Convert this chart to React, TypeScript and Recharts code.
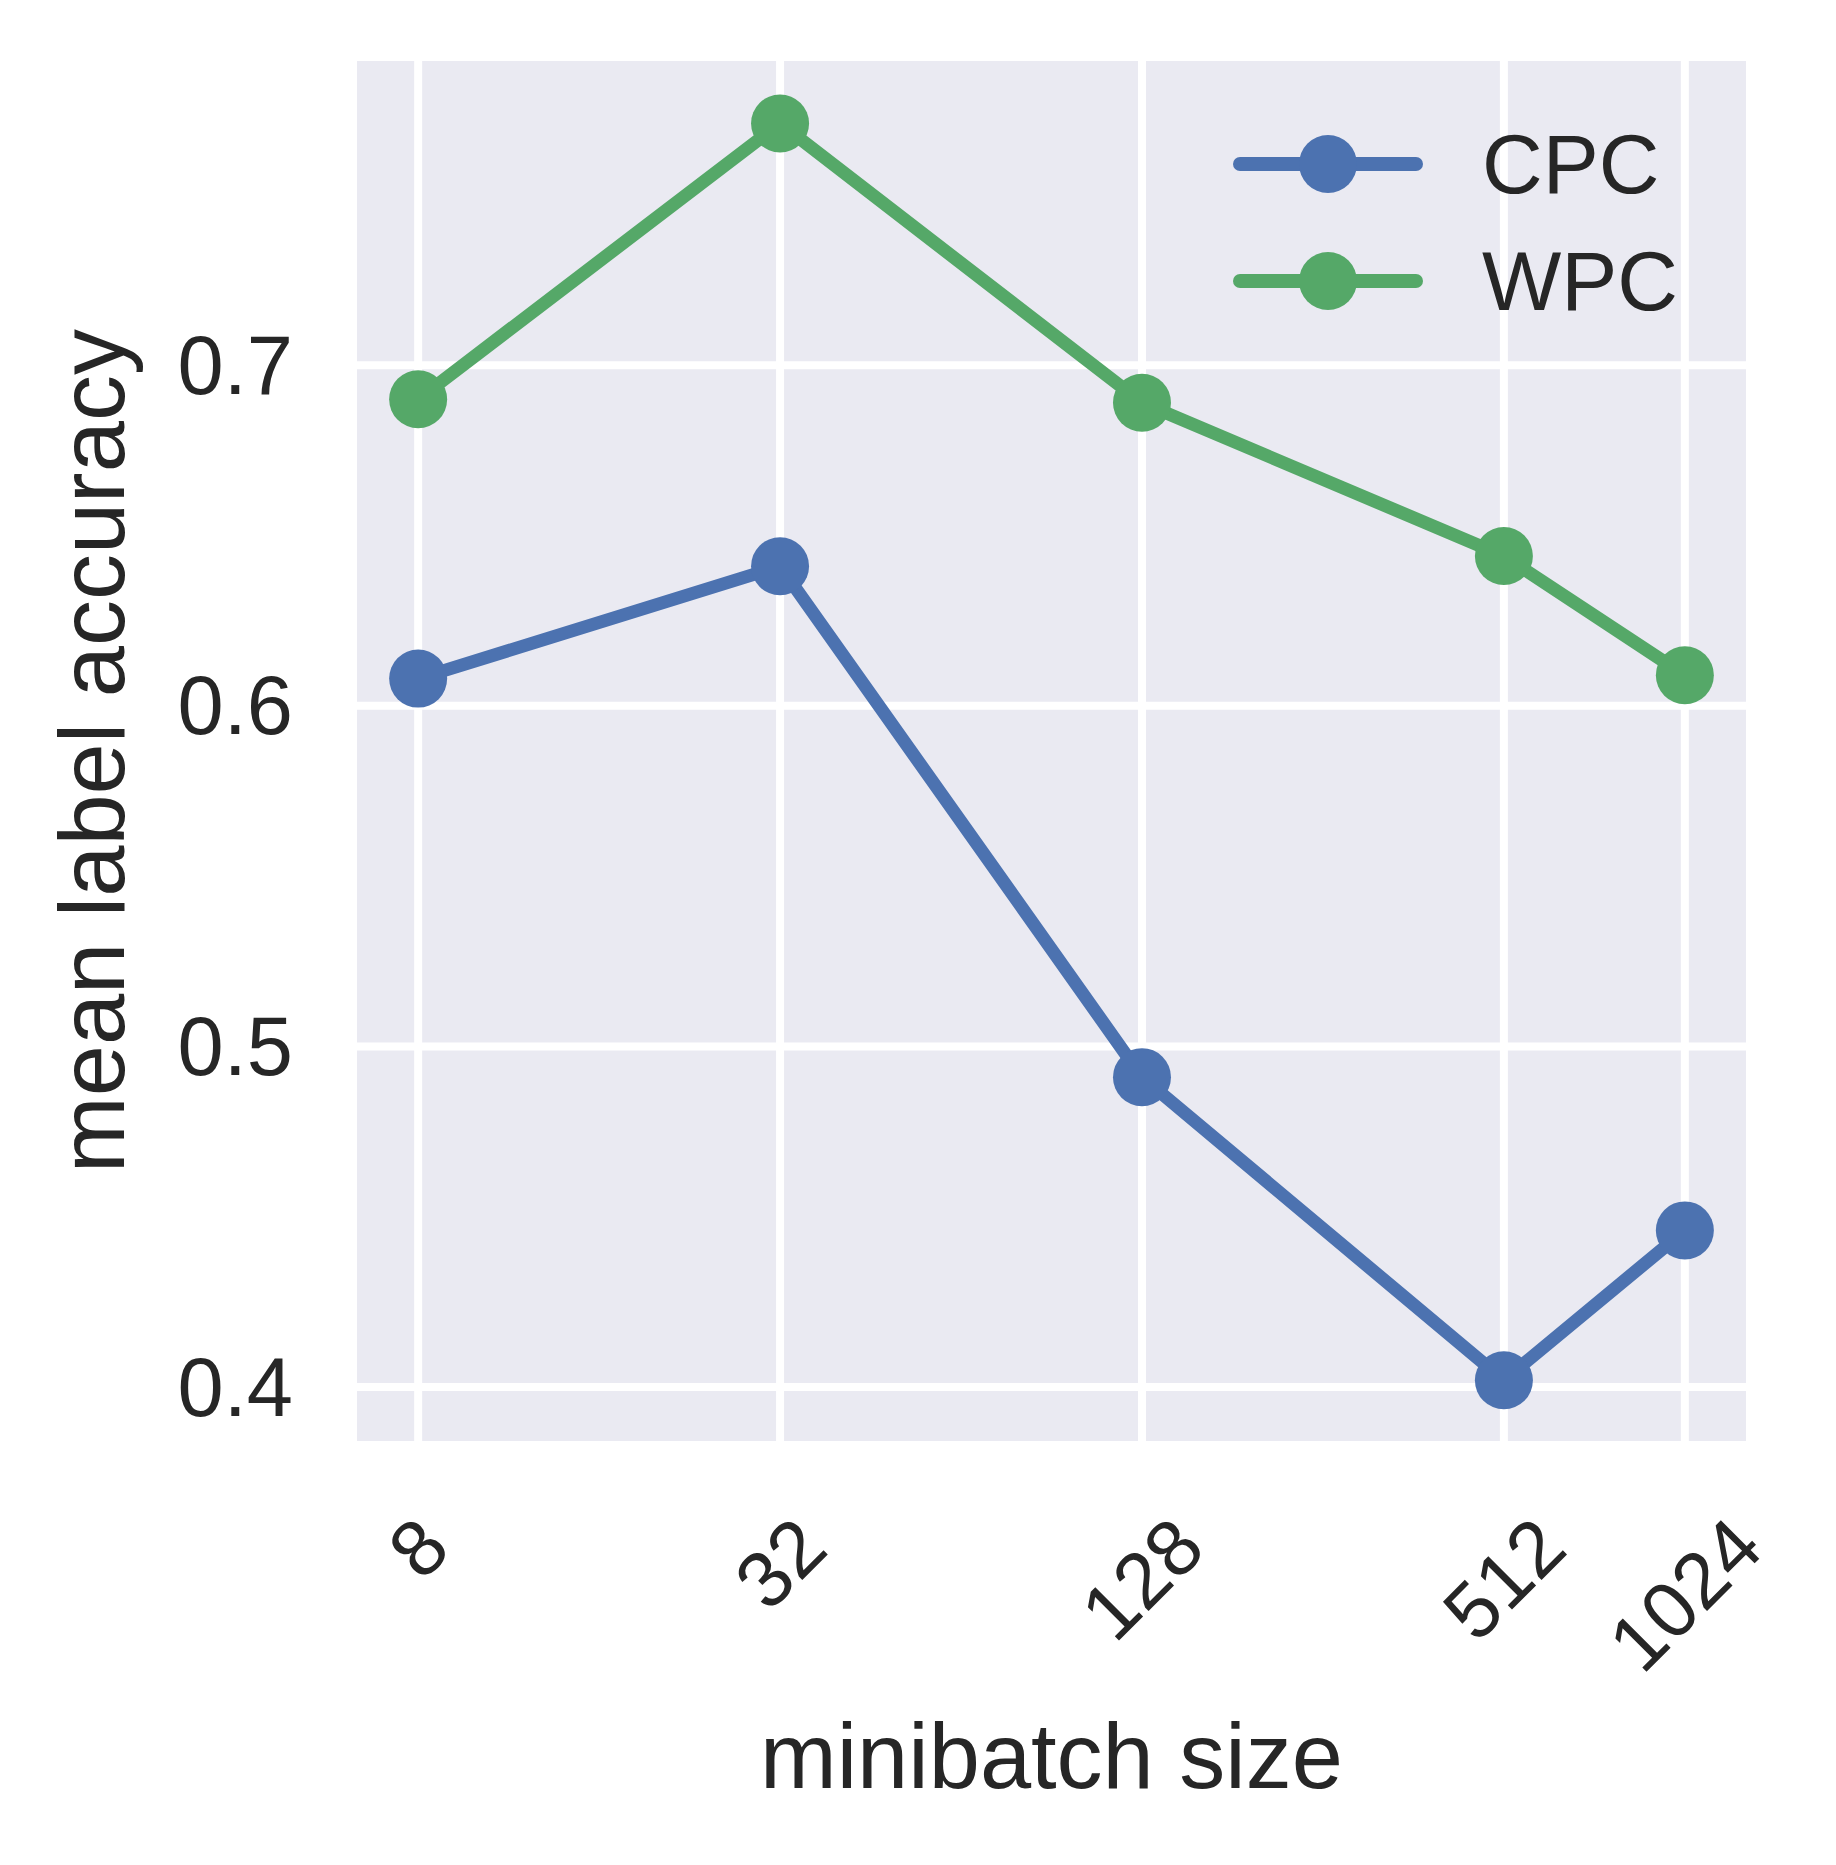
import { CartesianGrid, Legend, Line, LineChart, XAxis, YAxis } from "recharts";

const batchSizes = [8, 32, 128, 512, 1024];
const cpcAccuracy = [0.608, 0.641, 0.491, 0.402, 0.446];
const wpcAccuracy = [0.69, 0.771, 0.689, 0.644, 0.609];
const yTicks = [0.4, 0.5, 0.6, 0.7];

const seriesNames = ["CPC", "WPC"];
const seriesColors = ["#4C72B0", "#55A868"];

const FONT = "'Liberation Sans', Arial, Helvetica, sans-serif";
const INK = "#262626";

const data = batchSizes.map((b, i) => ({
  size: b,
  CPC: cpcAccuracy[i],
  WPC: wpcAccuracy[i],
}));

// log2 axis with matplotlib-like 5% margins
const xDomain = [Math.pow(2, 2.65), Math.pow(2, 10.35)];
const yDomain = [0.3836, 0.7899];

function XTick(props: any) {
  const { x, y, payload } = props;
  const label = String(payload.value);
  const f = 79;
  const w = label.length * 0.556 * f - 0.1 * f;
  const h = 0.716 * f;
  const cy = y + ((w + h) * 0.7071) / 2;
  return (
    <text
      x={x}
      y={cy}
      textAnchor="middle"
      dominantBaseline="central"
      transform={`rotate(-45 ${x} ${cy})`}
      fontFamily={FONT}
      fontSize={f}
      fill={INK}
    >
      {label}
    </text>
  );
}

function YTick(props: any) {
  const { x, y, payload } = props;
  return (
    <text
      x={x}
      y={y}
      textAnchor="end"
      dominantBaseline="central"
      fontFamily={FONT}
      fontSize={83}
      fill={INK}
    >
      {Number(payload.value).toFixed(1)}
    </text>
  );
}

function XLabel(props: any) {
  const { x, y, width } = props.viewBox;
  return (
    <text
      x={x + width / 2}
      y={y + 343}
      textAnchor="middle"
      fontFamily={FONT}
      fontSize={92}
      fill={INK}
    >
      minibatch size
    </text>
  );
}

function YLabel(props: any) {
  const { x, y, height } = props.viewBox;
  const lx = x + 73;
  const ly = y + height / 2;
  return (
    <text
      x={lx}
      y={ly}
      textAnchor="middle"
      transform={`rotate(-90 ${lx} ${ly})`}
      fontFamily={FONT}
      fontSize={92}
      fill={INK}
    >
      mean label accuracy
    </text>
  );
}

function LegendBox() {
  return (
    <svg width={520} height={260}>
      {seriesNames.map((name, i) => {
        const cy = 84 + i * 117;
        return (
          <g key={name}>
            <line
              x1={40}
              x2={216}
              y1={cy}
              y2={cy}
              stroke={seriesColors[i]}
              strokeWidth={14}
              strokeLinecap="round"
            />
            <circle cx={128} cy={cy} r={29} fill={seriesColors[i]} />
            <text
              x={282}
              y={cy}
              dominantBaseline="central"
              fontFamily={FONT}
              fontSize={84}
              fill={INK}
            >
              {name}
            </text>
          </g>
        );
      })}
    </svg>
  );
}

export default function App() {
  return (
    <div style={{ width: 1836, height: 1865, background: "#fff" }}>
      <style>{`body{margin:0}`}</style>
      <LineChart
        width={1836}
        height={1865}
        data={data}
        margin={{ top: 57, right: 86, bottom: 118, left: 51 }}
      >
        <CartesianGrid
          fill="#EAEAF2"
          fillOpacity={1}
          stroke="#ffffff"
          strokeWidth={8}
        />
        <XAxis
          dataKey="size"
          type="number"
          scale="log"
          domain={[Math.pow(2, 2.64), Math.pow(2, 10.36)]}
          allowDataOverflow
          ticks={batchSizes}
          interval={0}
          axisLine={false}
          tickLine={false}
          tickSize={0}
          tickMargin={70}
          height={302}
          tick={<XTick />}
          label={<XLabel />}
        />
        <YAxis
          type="number"
          domain={[0.383, 0.7905]}
          allowDataOverflow
          ticks={yTicks}
          interval={0}
          axisLine={false}
          tickLine={false}
          tickSize={0}
          tickMargin={60}
          width={302}
          tick={<YTick />}
          label={<YLabel />}
        />
        <Legend
          layout="horizontal"
          verticalAlign="middle"
          align="center"
          content={() => <LegendBox />}
          wrapperStyle={{ position: "absolute", left: 1200, top: 80, width: 520, height: 260 }}
        />
        {seriesNames.map((name, i) => (
          <Line
            key={name}
            type="linear"
            dataKey={name}
            stroke={seriesColors[i]}
            strokeWidth={13}
            strokeLinejoin="round"
            dot={{ r: 29, fill: seriesColors[i], stroke: "none", strokeWidth: 0 }}
            activeDot={false}
            isAnimationActive={false}
          />
        ))}
      </LineChart>
    </div>
  );
}
